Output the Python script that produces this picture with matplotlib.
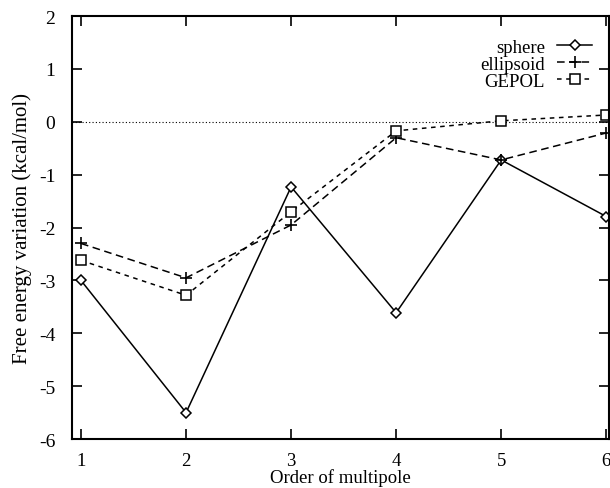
import matplotlib
matplotlib.use("Agg")
import matplotlib.pyplot as plt
from matplotlib.legend_handler import HandlerLine2D

plt.rcParams['font.family'] = ['Liberation Serif', 'DejaVu Serif']

orders = [1, 2, 3, 4, 5, 6]
sphere = [-3.0, -5.5, -1.23, -3.61, -0.72, -1.79]
ellipsoid = [-2.3, -2.95, -1.95, -0.30, -0.72, -0.21]
gepol = [-2.62, -3.28, -1.70, -0.17, 0.02, 0.13]


class OffsetMarkerHandler(HandlerLine2D):
    def get_xdata(self, legend, xdescent, ydescent, width, height, fontsize):
        xdata, _ = super().get_xdata(legend, xdescent, ydescent, width, height, fontsize)
        return xdata, [-xdescent + 0.3 * width]


fig = plt.figure(figsize=(6.10, 4.89), dpi=100)
ax = fig.add_axes([0.118, 0.100, 0.881, 0.865])

ax.axhline(0, color='black', lw=0.8, ls=(0, (1, 2)))
ax.plot(orders, sphere, color='black', lw=1.1, ls='-', marker='D', ms=5.5,
        mfc='white', mec='black', mew=1.1, label='sphere')
ax.plot(orders, ellipsoid, color='black', lw=1.1, ls=(0, (5, 3)), marker='+', ms=9,
        mec='black', mew=1.2, label='ellipsoid')
ax.plot(orders, gepol, color='black', lw=1.1, ls=(0, (3, 3)), marker='s', ms=6.5,
        mfc='white', mec='black', mew=1.1, label='GEPOL')

ax.set_xlim(0.914, 6.03)
ax.set_ylim(-6, 2)
ax.set_xticks(orders)
ax.set_yticks(range(-6, 3))
ax.set_yticklabels([str(v) for v in range(-6, 3)])
ax.tick_params(direction='in', top=True, right=True, length=7, width=1.2, labelsize=14)
ax.tick_params(axis='y', pad=12)
ax.tick_params(axis='x', pad=9, labelsize=13.5)
for s in ax.spines.values():
    s.set_linewidth(1.5)

ax.set_xlabel('Order of multipole', fontsize=13.5, labelpad=0)
ax.set_ylabel('Free energy variation (kcal/mol)', fontsize=15, labelpad=5)

leg = ax.legend(loc='upper right', bbox_to_anchor=(0.968, 0.947), frameon=False, markerfirst=False,
                fontsize=13.5, handlelength=1.87, handletextpad=0.64, labelspacing=0.0,
                borderpad=0.0, borderaxespad=0.0,
                handler_map={plt.Line2D: OffsetMarkerHandler()})
for t in leg.get_texts():
    t.set_ha('right')

fig.savefig('out.png', dpi=100)
